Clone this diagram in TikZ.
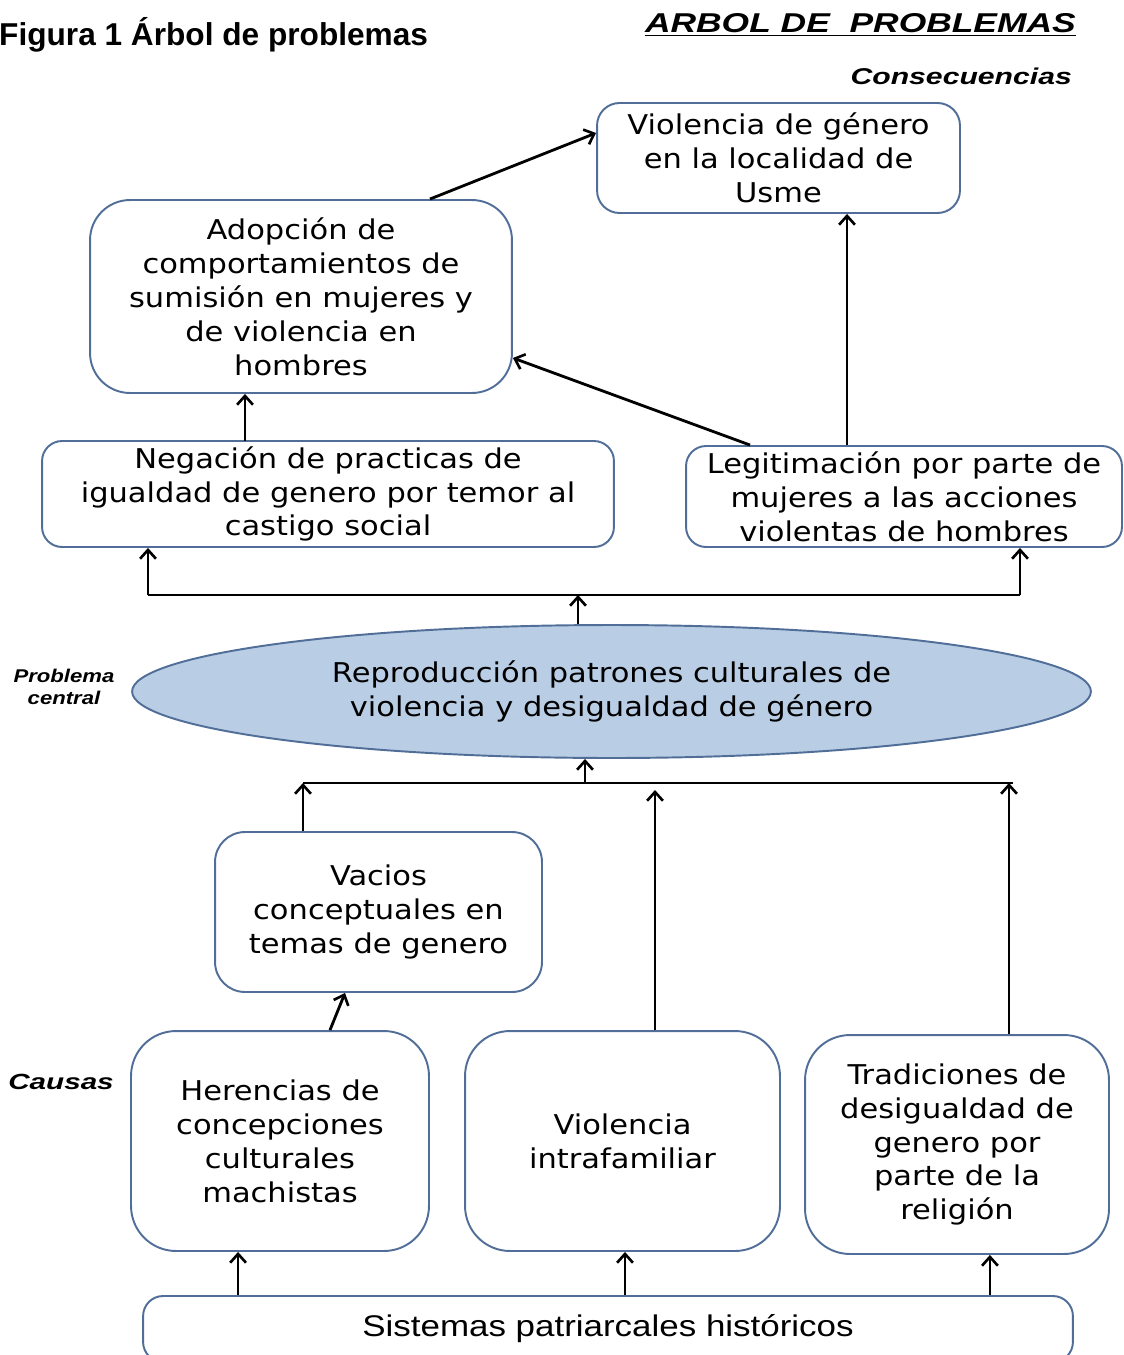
\documentclass[tikz,border=0pt]{standalone}
\usepackage{fontspec}
\setmainfont{Liberation Sans}
\newfontfamily\boxfont[FakeStretch=1.12]{DejaVu Sans}
\usetikzlibrary{
  arrows.meta,
  calc,
  positioning,
  shapes.geometric
}
\definecolor{boxline}{RGB}{80,110,152}
\definecolor{centralblue}{RGB}{185,205,229}

\tikzset{
  pbox/.style={draw=boxline, line width=1.1pt, rounded corners=#1, fill=white,
    align=center, inner sep=0pt, font=\boxfont\fontsize{15.5}{19.3}\selectfont},
  pbox/.default=0.5cm,
  link/.style={line width=1.6pt, -{Straight Barb[length=5pt,width=9pt,line width=1.5pt]}},
  bar/.style={line width=1.6pt},
  sidelabel/.style={font=\bfseries\itshape\fontsize{10.5}{11.5}\selectfont, align=center}
}

\begin{document}
\begin{tikzpicture}[x=0.02cm, y=-0.02cm]
  \useasboundingbox (0,0) rectangle (1124,1355);

  % Titles
  \node[anchor=base west, font=\bfseries\fontsize{18}{20}\selectfont] (titulo) at (-7,46) {Figura 1 Árbol de problemas};
  \node[anchor=base east, font=\bfseries\itshape\fontsize{15.5}{17}\selectfont] (arbol) at (1082,33)
    {\scalebox{1.3}[1]{\underline{ARBOL DE\ \ PROBLEMAS}}};
  \node[anchor=base east, font=\bfseries\itshape\fontsize{13}{14}\selectfont] (consecuencias) at (1078,85)
    {\scalebox{1.32}[1]{Consecuencias}};
  \node[sidelabel] (problema) at (64,687) {\scalebox{1.2}[1]{Problema}\\[1pt]\scalebox{1.2}[1]{central}};
  \node[sidelabel, font=\bfseries\itshape\fontsize{12.5}{13}\selectfont] (causas) at (61,1082) {\scalebox{1.35}[1]{Causas}};

  % Consequences
  \node[pbox=0.45cm, minimum width=7.26cm, minimum height=2.2cm] (consec) at (778.5,158)
    {Violencia de género\\en la localidad de\\Usme};
  \node[pbox=0.8cm, minimum width=8.44cm, minimum height=3.86cm] (adopcion) at (301,296.5)
    {Adopción de\\comportamientos de\\sumisión en mujeres y\\de violencia en\\hombres};
  \node[pbox=0.4cm, minimum width=11.44cm, minimum height=2.12cm] (negacion) at (328,494)
    {Negación de practicas de\\igualdad de genero por temor al\\castigo social};
  \node[pbox=0.4cm, minimum width=8.72cm, minimum height=2.02cm] (legitim) at (904,496.5)
    {Legitimación por parte de\\mujeres a las acciones\\violentas de hombres};

  % Central problem
  \node[ellipse, draw=boxline, fill=centralblue, line width=1.1pt, inner sep=0pt,
    minimum width=19.18cm, minimum height=2.66cm, align=center,
    font=\boxfont\fontsize{15.5}{19.3}\selectfont] (central) at (611.5,691.5)
    {Reproducción patrones culturales de\\violencia y desigualdad de género};

  % Causes
  \node[pbox=0.6cm, minimum width=6.54cm, minimum height=3.2cm] (vacios) at (378.5,912)
    {Vacios\\conceptuales en\\temas de genero};
  \node[pbox=0.9cm, minimum width=5.96cm, minimum height=4.4cm] (herencias) at (280,1141)
    {Herencias de\\concepciones\\culturales\\machistas};
  \node[pbox=0.9cm, minimum width=6.3cm, minimum height=4.4cm] (intrafam) at (622.5,1141)
    {Violencia\\intrafamiliar};
  \node[pbox=0.9cm, minimum width=6.08cm, minimum height=4.38cm] (tradic) at (957,1144.5)
    {Tradiciones de\\desigualdad de\\genero por\\parte de la\\religión};
  \node[pbox=0.4cm, minimum width=18.6cm, minimum height=1.32cm,
    font=\fontsize{17}{19}\selectfont] (sistemas) at (608,1329)
    {\scalebox{1.17}[1]{Sistemas patriarcales históricos}};

  % Upper links
  \draw[link] ([xshift=2.58cm]adopcion.north) -- ([yshift=0.5cm]consec.west);
  \draw[link] ([xshift=-3.08cm]legitim.north) -- ([yshift=-1.23cm]adopcion.east);
  \draw[link] ([xshift=-1.14cm]legitim.north) coordinate (lg) -- (lg |- consec.south);
  \coordinate (negA) at (245,441);
  \draw[link] (negA) -- (negA |- adopcion.south);

  % Bar above the central problem
  \coordinate (topL) at (148,595);
  \coordinate (topR) at (1020,595);
  \coordinate (topM) at (578,595);
  \draw[bar] (topL) -- (topR);
  \draw[link] (topL) -- (topL |- negacion.south);
  \draw[link] (topR) -- (topR |- legitim.south);
  \draw[link] (topM |- central.north) -- (topM);

  % Bar below the central problem
  \coordinate (lowL) at (303,783);
  \coordinate (lowR) at (1009,783);
  \coordinate (lowM) at (585,783);
  \coordinate (famTip) at (655,790);
  \draw[bar] (lowL) -- ([xshift=0.08cm]lowR);
  \draw[link] (lowM) -- (lowM |- central.south);
  \draw[link] (lowL |- vacios.north) -- (lowL);
  \draw[link] (famTip |- intrafam.north) -- (famTip);
  \draw[link] (lowR |- tradic.north) -- (lowR);
  \draw[link] ([xshift=1.0cm]herencias.north) -- ([xshift=-0.67cm]vacios.south);

  % Links from the root cause
  \foreach \dx/\target in {-7.4/herencias, 0.34/intrafam, 7.64/tradic} {
    \draw[link] ([xshift=\dx cm]sistemas.north) coordinate (s) -- (s |- \target.south);
  }
\end{tikzpicture}
\end{document}
